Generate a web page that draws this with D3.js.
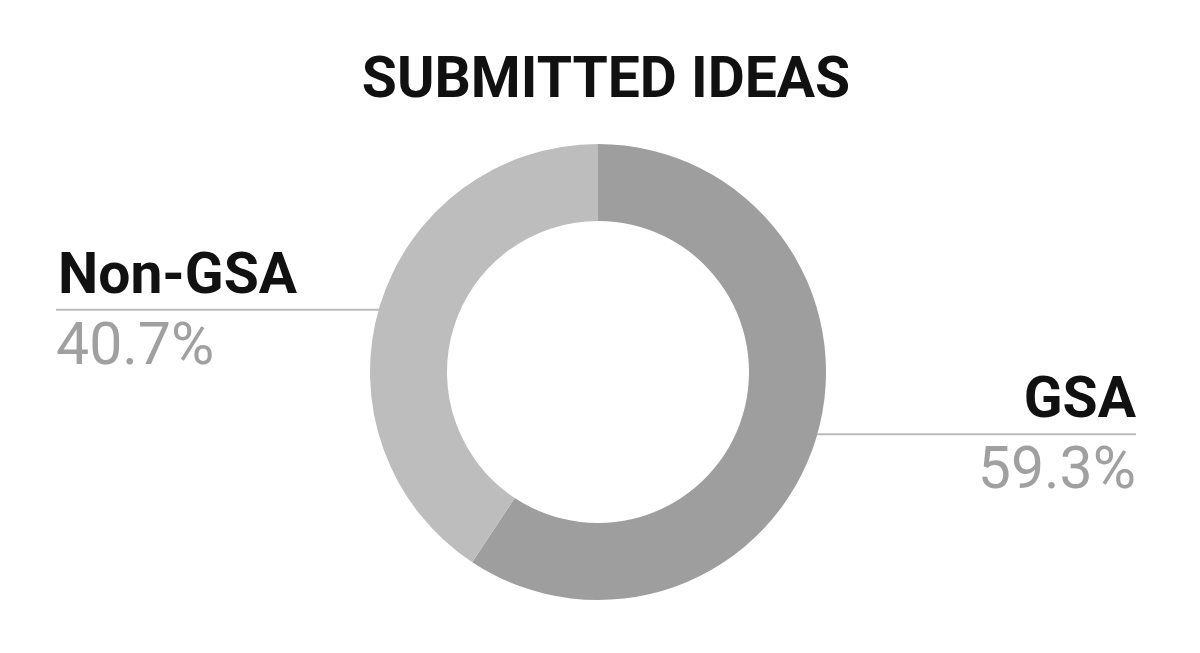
<!DOCTYPE html>
<html><head><meta charset="utf-8">
<script src="https://cdn.jsdelivr.net/npm/d3@7"></script>
<style>body{margin:0;background:#fff;} svg{display:block;font-family:Roboto,sans-serif;}</style>
</head><body>
<svg id="chart" width="1200" height="653"></svg>
<script>
const title = "SUBMITTED IDEAS";
const categories = ["GSA", "Non-GSA"];
const values = [59.3, 40.7];
const colors = ["#9e9e9e", "#bdbdbd"];

const svg = d3.select("#chart");
const cx = 598, cy = 372, rOuter = 228, rInner = 151;

svg.append("text").attr("x", 606).attr("y", 97).attr("text-anchor", "middle")
  .attr("font-size", 57).attr("font-weight", 700).attr("fill", "#111").text(title);

const data = categories.map((c, i) => ({cat: c, value: values[i], color: colors[i]}));
const pie = d3.pie().sort(null).value(d => d.value);
const arcs = pie(data);
const arc = d3.arc().innerRadius(rInner).outerRadius(rOuter);

const labelArc = d3.arc().innerRadius(216).outerRadius(216);
const lines = svg.append("g");
const g = svg.append("g").attr("transform", `translate(${cx},${cy})`);
g.selectAll("path").data(arcs).join("path").attr("d", arc).attr("fill", d => d.data.color);

arcs.forEach(a => {
  const [px, py] = labelArc.centroid(a);
  const right = px > 0;
  const x0 = cx + px, y0 = cy + py;
  const x1 = right ? 1136 : 56;
  lines.append("line").attr("x1", x0).attr("y1", y0).attr("x2", x1).attr("y2", y0)
    .attr("stroke", "#bbb").attr("stroke-width", 2);
  svg.append("text").attr("x", right ? x1 : 58).attr("y", y0 - 17).attr("text-anchor", right ? "end" : "start")
    .attr("font-size", 57).attr("font-weight", 700).attr("fill", "#111").text(a.data.cat);
  svg.append("text").attr("x", x1).attr("y", y0 + 54).attr("text-anchor", right ? "end" : "start")
    .attr("font-size", 59).attr("font-weight", 400).attr("fill", "#a0a0a0").text(a.data.value.toFixed(1) + "%");
});
</script>
</body></html>
